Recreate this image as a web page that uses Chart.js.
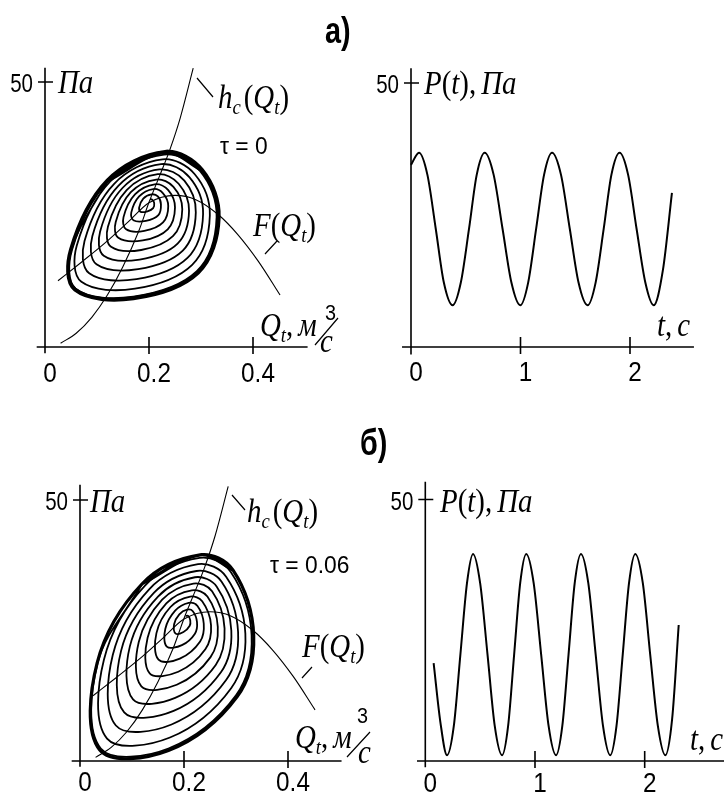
<!DOCTYPE html>
<html>
<head>
<meta charset="utf-8">
<script src="https://cdn.jsdelivr.net/npm/chart.js@4.4.0/dist/chart.umd.min.js"></script>
<style>
    html, body { margin: 0; padding: 0; background: #fff; }
    #wrap { position: relative; width: 724px; height: 794px; }
    #wrap canvas { position: absolute; left: 0; top: 0; }
</style>
</head>
<body>
<div id="wrap">
    <canvas id="phaseA" width="724" height="794"></canvas>
    <canvas id="timeA" width="724" height="794"></canvas>
    <canvas id="phaseB" width="724" height="794"></canvas>
    <canvas id="timeB" width="724" height="794"></canvas>
</div>
<script>
// System characteristic h_c(Q) and fan characteristic F(Q), same in both cases.
const hcQ = [0.03, 0.06, 0.09, 0.12, 0.15, 0.18, 0.20, 0.22, 0.24, 0.26, 0.285];
const hcP = [0.7, 2.6, 5.6, 9.8, 15.2, 21.8, 27.3, 32.2, 37.2, 43.2, 52.6];
const fQ = [0.025, 0.07, 0.115, 0.16, 0.20, 0.25, 0.29, 0.333, 0.37, 0.41, 0.452];
const fP = [12.5, 16.0, 19.6, 23.6, 27.2, 28.6, 27.8, 25.0, 21.3, 16.2, 9.8];

// a) tau = 0 : spiral from the focus out to the limit cycle
const spiralAQ = [
    0.202, 0.206, 0.210, 0.208, 0.197, 0.184, 0.181, 0.189,
    0.205, 0.217, 0.223, 0.218, 0.194, 0.170, 0.166, 0.181,
    0.208, 0.227, 0.237, 0.227, 0.191, 0.156, 0.151, 0.173,
    0.211, 0.237, 0.250, 0.236, 0.188, 0.141, 0.136, 0.165,
    0.214, 0.247, 0.264, 0.246, 0.185, 0.127, 0.121, 0.157,
    0.217, 0.257, 0.277, 0.255, 0.182, 0.113, 0.106, 0.149,
    0.220, 0.268, 0.290, 0.265, 0.179, 0.099, 0.091, 0.141,
    0.223, 0.278, 0.304, 0.274, 0.176, 0.085, 0.076, 0.133,
    0.226, 0.288, 0.317, 0.283, 0.173, 0.070, 0.061, 0.125,
    0.229, 0.298, 0.330, 0.292, 0.170, 0.059, 0.051, 0.120
];
const spiralAP = [
    27.9, 27.8, 27.2, 26.2, 25.6, 25.5, 26.3, 28.0,
    28.8, 28.4, 26.9, 24.9, 23.8, 23.9, 25.4, 28.4,
    29.8, 29.0, 26.6, 23.5, 21.9, 22.2, 24.5, 28.8,
    30.7, 29.6, 26.3, 22.2, 20.1, 20.6, 23.6, 29.2,
    31.6, 30.2, 26.0, 20.9, 18.3, 18.9, 22.7, 29.6,
    32.6, 30.8, 25.7, 19.5, 16.5, 17.2, 21.8, 30.0,
    33.5, 31.4, 25.4, 18.2, 14.7, 15.6, 20.9, 30.4,
    34.5, 32.0, 25.1, 16.8, 12.8, 13.9, 20.0, 30.8,
    35.4, 32.6, 24.8, 15.5, 11.0, 12.3, 19.1, 31.2,
    36.3, 33.2, 24.5, 14.3, 9.5, 11.0, 18.4, 31.4
];
const cycleAQ = [0.120, 0.231, 0.302, 0.334, 0.294, 0.170, 0.058, 0.050, 0.120, 0.231, 0.302];
const cycleAP = [31.4, 36.8, 33.4, 24.4, 14.0, 9.2, 10.8, 18.4, 31.4, 36.8, 33.4];

const timeAT = [0, 0.073, 0.15, 0.226, 0.30, 0.38, 0.455, 0.53, 0.60, 0.673, 0.755, 0.836, 0.917, 0.998,
    1.07, 1.143, 1.215, 1.288, 1.37, 1.45, 1.53, 1.613, 1.686, 1.76, 1.83, 1.905, 1.983, 2.06, 2.14, 2.216, 2.30, 2.383];
const timeAP = [34.5, 36.8, 32.6, 22.4, 12.2, 7.9, 12.2, 22.4, 32.6, 36.8, 32.6, 22.4, 12.2, 7.9,
    12.2, 22.4, 32.6, 36.8, 32.6, 22.4, 12.2, 7.9, 12.2, 22.4, 32.6, 36.8, 32.6, 22.4, 12.2, 7.9, 14.5, 29.2];

// b) tau = 0.06
const spiralBQ = [
    0.203, 0.208, 0.212, 0.211, 0.199, 0.184, 0.181, 0.191,
    0.206, 0.217, 0.225, 0.221, 0.196, 0.167, 0.164, 0.183,
    0.209, 0.226, 0.238, 0.231, 0.192, 0.151, 0.147, 0.174,
    0.212, 0.235, 0.252, 0.241, 0.189, 0.134, 0.130, 0.166,
    0.215, 0.245, 0.265, 0.251, 0.186, 0.118, 0.113, 0.158,
    0.218, 0.254, 0.278, 0.261, 0.183, 0.102, 0.096, 0.150,
    0.221, 0.263, 0.291, 0.271, 0.180, 0.085, 0.079, 0.142,
    0.224, 0.272, 0.304, 0.281, 0.176, 0.069, 0.063, 0.133,
    0.227, 0.281, 0.318, 0.291, 0.173, 0.052, 0.046, 0.125,
    0.230, 0.290, 0.330, 0.300, 0.170, 0.040, 0.034, 0.120
];
const spiralBP = [
    27.8, 27.8, 27.0, 25.9, 24.7, 24.4, 26.2, 28.1,
    29.0, 28.7, 26.6, 24.4, 22.2, 21.9, 25.3, 28.8,
    30.3, 29.7, 26.3, 22.9, 19.6, 19.4, 24.5, 29.5,
    31.5, 30.6, 26.0, 21.4, 17.1, 16.8, 23.6, 30.2,
    32.7, 31.5, 25.7, 19.9, 14.6, 14.3, 22.8, 30.9,
    34.0, 32.5, 25.4, 18.4, 12.1, 11.8, 22.0, 31.5,
    35.2, 33.4, 25.0, 17.0, 9.6, 9.3, 21.1, 32.2,
    36.4, 34.4, 24.7, 15.5, 7.0, 6.8, 20.3, 32.9,
    37.7, 35.3, 24.4, 14.0, 4.5, 4.3, 19.4, 33.6,
    38.9, 36.2, 24.1, 12.6, 2.4, 2.4, 18.8, 34.0
];
const cycleBQ = [0.120, 0.231, 0.294, 0.334, 0.302, 0.170, 0.038, 0.033, 0.120, 0.231, 0.294];
const cycleBP = [34.0, 39.5, 36.6, 24.0, 12.3, 2.0, 2.1, 18.8, 34.0, 39.5, 36.6];

const timeBT = [0.076, 0.137, 0.198, 0.26, 0.32, 0.38, 0.435, 0.50, 0.567, 0.633, 0.70, 0.755, 0.81, 0.865, 0.92,
    0.988, 1.056, 1.124, 1.192, 1.249, 1.306, 1.362, 1.419, 1.486, 1.553, 1.62, 1.686, 1.743, 1.80, 1.857, 1.914,
    1.983, 2.05, 2.12, 2.188, 2.25, 2.31];
const timeBP = [18.7, 7.5, 1.1, 6.7, 20.4, 34.0, 39.6, 34.0, 20.4, 6.7, 1.1, 6.7, 20.4, 34.0, 39.6,
    34.0, 20.4, 6.7, 1.1, 6.7, 20.4, 34.0, 39.6, 34.0, 20.4, 6.7, 1.1, 6.7, 20.4, 34.0, 39.6,
    34.0, 20.4, 6.7, 1.1, 8.0, 26.0];

// tick labels
const qTicks = [0, 0.2, 0.4];
const qTickLabels = ['0', '0.2', '0.4'];
const tTicks = [0, 1, 2];
const tTickLabels = ['0', '1', '2'];
const pTick = 50;

const SANS = '"Liberation Sans", Arial, sans-serif';
const SERIF = '"Liberation Serif", "Times New Roman", serif';
const MATH = {
    i: { font: 'italic 34px ' + SERIF, sx: 0.85, dy: 0 },
    sub: { font: 'italic 22px ' + SERIF, sx: 0.85, dy: 6 },
    r: { font: '34px ' + SERIF, sx: 0.85, dy: 0 }
};

function drawText(ctx, str, x, y, font, sx, align) {
    ctx.save();
    ctx.font = font;
    ctx.textAlign = align || 'left';
    ctx.textBaseline = 'alphabetic';
    ctx.translate(x, y);
    ctx.scale(sx, 1);
    ctx.fillText(str, 0, 0);
    const w = ctx.measureText(str).width * sx;
    ctx.restore();
    return w;
}

function drawMath(ctx, runs, x, y) {
    let cx = x;
    runs.forEach(([s, kind]) => {
        if (kind === 'gap') { cx += s; return; }
        const st = MATH[kind];
        cx += drawText(ctx, s, cx, y + st.dy, st.font, st.sx);
    });
}

const HC = [['h', 'i'], ['c', 'sub'], [3, 'gap'], ['(', 'r'], ['Q', 'i'], ['t', 'sub'], [')', 'r']];
const FQ = [['F', 'i'], ['(', 'r'], ['Q', 'i'], ['t', 'sub'], [')', 'r']];
const QT = [['Q', 'i'], ['t', 'sub'], [',', 'r'], [5, 'gap'], ['м', 'i']];
const PT = [['P', 'i'], ['(', 'r'], ['t', 'i'], [')', 'r'], [',', 'r'], [5, 'gap'], ['Па', 'i']];
const TC = [['t', 'i'], [',', 'r'], [5, 'gap'], ['с', 'i']];
const PA = [['Па', 'i']];

function makeDecor(cfg) {
    return {
        id: 'decor',
        afterDraw(chart) {
            const ctx = chart.ctx;
            const xs = chart.scales.x, ys = chart.scales.y;
            const x0 = xs.getPixelForValue(0), y0 = ys.getPixelForValue(0);
            const y50 = ys.getPixelForValue(pTick);
            ctx.save();
            ctx.strokeStyle = '#000';
            ctx.fillStyle = '#000';
            ctx.lineWidth = 1.6;
            ctx.beginPath();
            ctx.moveTo(xs.left, y0); ctx.lineTo(xs.right, y0);
            ctx.moveTo(x0, ys.bottom); ctx.lineTo(x0, ys.top);
            cfg.ticks.forEach(v => {
                if (v === 0) return;
                const px = xs.getPixelForValue(v);
                ctx.moveTo(px, y0 - 10); ctx.lineTo(px, y0 + 7);
            });
            ctx.moveTo(x0 - 7, y50); ctx.lineTo(x0 + 8, y50);
            ctx.stroke();

            cfg.ticks.forEach((v, i) => {
                drawText(ctx, cfg.tickLabels[i], xs.getPixelForValue(v) + 5, y0 + cfg.labelDy, '27px ' + SANS, 0.9, 'center');
            });
            drawText(ctx, String(pTick), x0 - 12, y50 + 10, '25px ' + SANS, 0.82, 'right');

            ctx.lineWidth = 1.2;
            ctx.beginPath();
            (cfg.lines || []).forEach(l => { ctx.moveTo(l[0], l[1]); ctx.lineTo(l[2], l[3]); });
            ctx.stroke();
            (cfg.labels || []).forEach(l => drawMath(ctx, l.runs, l.x, l.y));
            (cfg.texts || []).forEach(t => drawText(ctx, t.s, t.x, t.y, t.font, t.sx));
            ctx.restore();
        }
    };
}

const pts = (xv, yv) => xv.map((x, i) => ({ x: x, y: yv[i] }));

function curve(data, width, extra) {
    return Object.assign({
        data: data,
        showLine: true,
        borderColor: '#000',
        borderWidth: width,
        pointRadius: 0,
        fill: false
    }, extra);
}

function makePanel(id, geo, datasets, decor) {
    const padding = {
        left: geo.x0 + geo.xMin * geo.kx,
        right: 724 - (geo.x0 + geo.xMax * geo.kx),
        top: geo.y0 - geo.yMax * geo.ky,
        bottom: 794 - (geo.y0 - geo.yMin * geo.ky)
    };
    return new Chart(document.getElementById(id), {
        type: 'scatter',
        data: { datasets: datasets },
        options: {
            responsive: false,
            animation: false,
            layout: { padding: padding },
            plugins: { legend: { display: false }, tooltip: { enabled: false } },
            scales: {
                x: { type: 'linear', min: geo.xMin, max: geo.xMax, display: false },
                y: { type: 'linear', min: geo.yMin, max: geo.yMax, display: false }
            }
        },
        plugins: [makeDecor(decor)]
    });
}

const smooth = { cubicInterpolationMode: 'monotone' };
const ring = { tension: 0.36 };

makePanel('phaseA',
    { x0: 45, y0: 347, kx: 520, ky: 5.3, xMin: -0.016, xMax: 0.505, yMin: -1.2, yMax: 52.7 },
    [
        curve(pts(hcQ, hcP), 1.1, smooth),
        curve(pts(fQ, fP), 1.1, smooth),
        curve(pts(spiralAQ, spiralAP), 1.8, ring),
        curve(pts(cycleAQ, cycleAP), 4, ring)
    ],
    {
        ticks: qTicks, tickLabels: qTickLabels, labelDy: 35,
        lines: [[197, 78, 213, 97], [277, 241, 265, 254], [338, 318, 315, 345]],
        labels: [
            { runs: PA, x: 58, y: 93 },
            { runs: HC, x: 218, y: 108 },
            { runs: FQ, x: 253, y: 236 },
            { runs: QT, x: 260, y: 336 },
            { runs: [['с', 'i']], x: 320, y: 352 }
        ],
        texts: [
            { s: 'τ = 0', x: 220, y: 154, font: '24px ' + SANS, sx: 0.95 },
            { s: '3', x: 325, y: 320, font: '22px ' + SANS, sx: 0.9 },
            { s: 'а)', x: 325, y: 43, font: 'bold 36px ' + SANS, sx: 0.8 }
        ]
    });

makePanel('timeA',
    { x0: 411, y0: 347, kx: 109.5, ky: 5.28, xMin: -0.082, xMax: 2.584, yMin: -1.4, yMax: 52.8 },
    [curve(pts(timeAT, timeAP), 2, smooth)],
    {
        ticks: tTicks, tickLabels: tTickLabels, labelDy: 34,
        labels: [
            { runs: PT, x: 424, y: 94 },
            { runs: TC, x: 657, y: 336 }
        ]
    });

makePanel('phaseB',
    { x0: 80, y0: 761, kx: 520, ky: 5.22, xMin: -0.016, xMax: 0.503, yMin: -1.1, yMax: 52.9 },
    [
        curve(pts(hcQ, hcP), 1.1, smooth),
        curve(pts(fQ, fP), 1.1, smooth),
        curve(pts(spiralBQ, spiralBP), 1.8, ring),
        curve(pts(cycleBQ, cycleBP), 3.2, ring)
    ],
    {
        ticks: qTicks, tickLabels: qTickLabels, labelDy: 30,
        lines: [[232, 495, 245, 510], [312, 667, 302, 678], [370, 732, 347, 757]],
        labels: [
            { runs: PA, x: 90, y: 512 },
            { runs: HC, x: 247, y: 522 },
            { runs: FQ, x: 302, y: 657 },
            { runs: QT, x: 295, y: 748 },
            { runs: [['с', 'i']], x: 358, y: 763 }
        ],
        texts: [
            { s: 'τ = 0.06', x: 270, y: 573, font: '24px ' + SANS, sx: 0.95 },
            { s: '3', x: 357, y: 723, font: '22px ' + SANS, sx: 0.9 },
            { s: 'б)', x: 360, y: 455, font: 'bold 36px ' + SANS, sx: 0.8 }
        ]
    });

makePanel('timeB',
    { x0: 425.3, y0: 761, kx: 109.7, ky: 5.23, xMin: -0.076, xMax: 2.723, yMin: -1.2, yMax: 53.4 },
    [curve(pts(timeBT, timeBP), 2, smooth)],
    {
        ticks: tTicks, tickLabels: tTickLabels, labelDy: 31,
        labels: [
            { runs: PT, x: 440, y: 512 },
            { runs: TC, x: 690, y: 750 }
        ]
    });
</script>
</body>
</html>
